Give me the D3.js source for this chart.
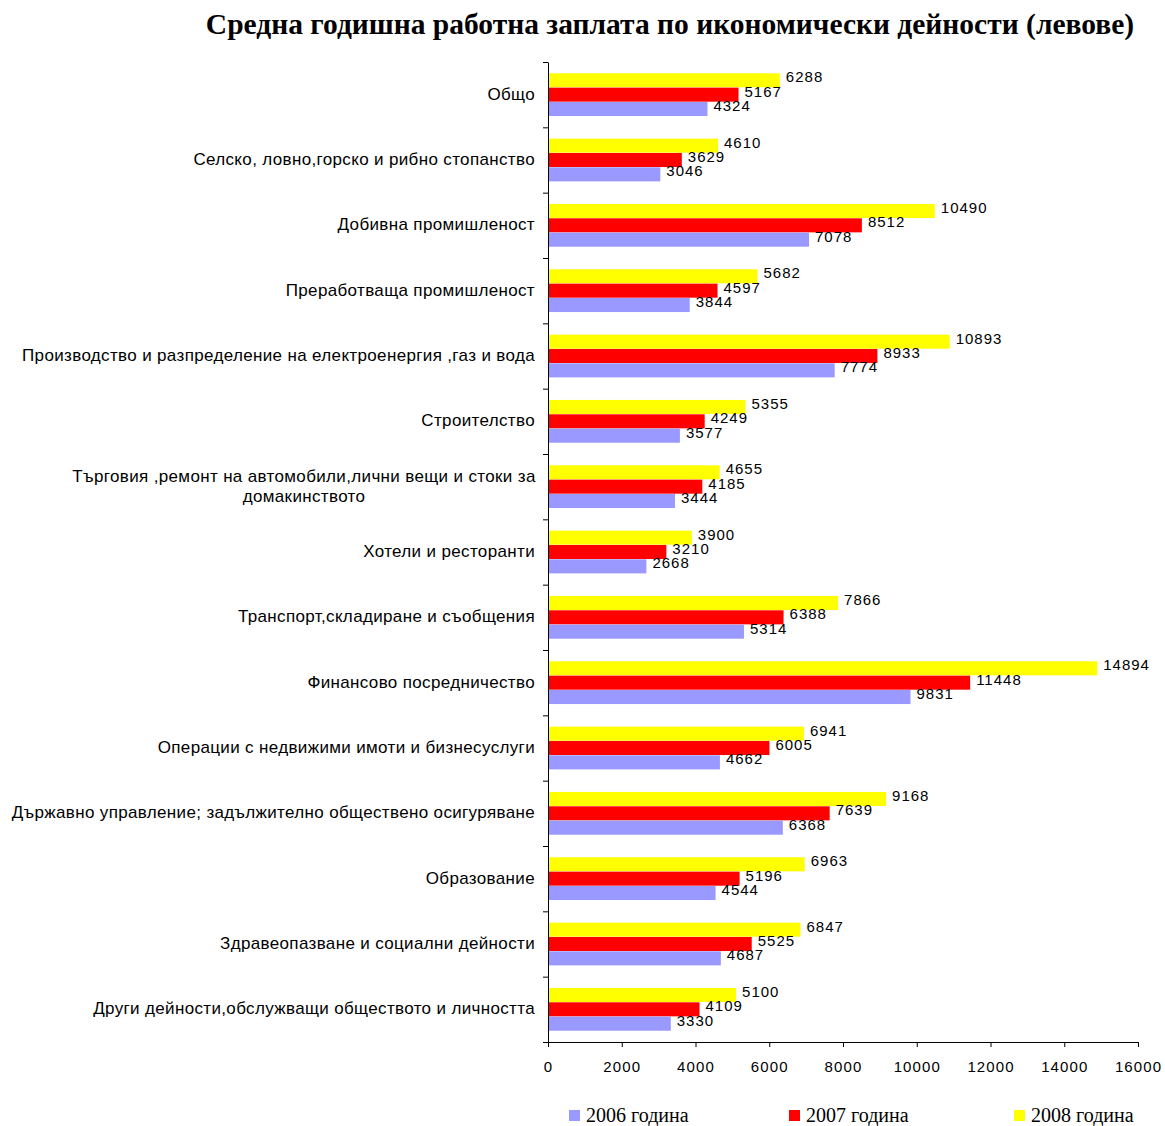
<!DOCTYPE html>
<html>
<head>
<meta charset="utf-8">
<script src="https://cdn.jsdelivr.net/npm/d3@7"></script>
<style>
  body { margin: 0; background: #fff; }
  .axis path, .axis line { stroke: #000; }
  .axis text { font-family: "Liberation Sans", Arial, sans-serif; font-size: 15px; letter-spacing: 1.1px; fill: #000; }
</style>
</head>
<body>
<svg id="chart"></svg>
<script>
var categories = [
  "Общо",
  "Селско, ловно,горско и рибно  стопанство",
  "Добивна промишленост",
  "Преработваща промишленост",
  "Производство и разпределение на  електроенергия ,газ и вода",
  "Строителство",
  "Търговия ,ремонт на автомобили,лични вещи и стоки за|домакинството",
  "Хотели и ресторанти",
  "Транспорт,складиране  и съобщения",
  "Финансово посредничество",
  "Операции с недвижими имоти и бизнесуслуги",
  "Държавно управление; задължително обществено осигуряване",
  "Образование",
  "Здравеопазване и социални дейности",
  "Други дейности,обслужващи обществото и личността"
];
var seriesNames = ["2008 година", "2007 година", "2006 година"];
var values2006 = [4324, 3046, 7078, 3844, 7774, 3577, 3444, 2668, 5314, 9831, 4662, 6368, 4544, 4687, 3330];
var values2007 = [5167, 3629, 8512, 4597, 8933, 4249, 4185, 3210, 6388, 11448, 6005, 7639, 5196, 5525, 4109];
var values2008 = [6288, 4610, 10490, 5682, 10893, 5355, 4655, 3900, 7866, 14894, 6941, 9168, 6963, 6847, 5100];
var xTicks = [0, 2000, 4000, 6000, 8000, 10000, 12000, 14000, 16000];
var colors = { "2006 година": "#9999ff", "2007 година": "#ff0000", "2008 година": "#ffff00" };
var seriesValues = { "2006 година": values2006, "2007 година": values2007, "2008 година": values2008 };

var width = 1165, height = 1126;
var margin = { top: 62, right: 27, bottom: 84, left: 548 };

var svg = d3.select("#chart").attr("width", width).attr("height", height);

var xScale = d3.scaleLinear()
  .domain([0, 16000])
  .range([margin.left, width - margin.right]);

var yScale = d3.scaleBand()
  .domain(d3.range(categories.length))
  .range([margin.top, height - margin.bottom])
  .paddingInner(0);

var yInner = d3.scaleBand()
  .domain(seriesNames)
  .range([11, yScale.bandwidth() - 11])
  .padding(0.02);

// title
svg.append("text")
  .attr("x", 670)
  .attr("y", 34)
  .attr("text-anchor", "middle")
  .style("font-family", "'Liberation Serif', 'Times New Roman', serif")
  .style("font-weight", "bold")
  .style("font-size", "29.5px")
  .text("Средна годишна работна заплата по икономически дейности (левове)");

// bars
var groups = svg.selectAll("g.cat")
  .data(categories)
  .enter().append("g")
  .attr("class", "cat")
  .attr("transform", (d, i) => `translate(0, ${yScale(i)})`);

groups.each(function (c, i) {
  var g = d3.select(this);
  seriesNames.forEach(function (s) {
    var v = seriesValues[s][i];
    g.append("rect")
      .attr("x", xScale(0))
      .attr("y", yInner(s))
      .attr("width", xScale(v) - xScale(0))
      .attr("height", yInner.bandwidth())
      .attr("fill", colors[s]);
    g.append("text")
      .attr("x", xScale(v) + 6)
      .attr("y", yInner(s) + yInner.bandwidth() / 2 + 2)
      .style("font-family", "'Liberation Sans', Arial, sans-serif")
      .style("font-size", "15px")
      .style("letter-spacing", "1px")
      .text(v);
  });

  // category label
  var lines = c.split("|");
  var lbl = g.append("text")
    .attr("text-anchor", lines.length > 1 ? "middle" : "end")
    .style("font-family", "'Liberation Sans', Arial, sans-serif")
    .style("font-size", "17px")
    .style("letter-spacing", "0.35px");
  if (lines.length > 1) {
    lbl.append("tspan").attr("x", 304).attr("y", yScale.bandwidth() / 2 - 5).text(lines[0]);
    lbl.append("tspan").attr("x", 304).attr("y", yScale.bandwidth() / 2 + 15).text(lines[1]);
  } else {
    lbl.attr("x", 535).attr("y", yScale.bandwidth() / 2 + 5).text(c);
  }
});

// axes
var yLin = d3.scaleLinear().domain([0, categories.length]).range([margin.top, height - margin.bottom]);
svg.append("g")
  .attr("class", "axis")
  .attr("transform", `translate(${margin.left}, 0)`)
  .call(d3.axisLeft(yLin).tickValues(d3.range(categories.length + 1)).tickFormat("").tickSize(5).tickSizeOuter(0));

svg.append("g")
  .attr("class", "axis")
  .attr("transform", `translate(0, ${height - margin.bottom})`)
  .call(d3.axisBottom(xScale).tickValues(xTicks).tickFormat(d3.format("d")).tickSize(5).tickSizeOuter(0).tickPadding(14));

// legend
var legendX = { "2006 година": 569, "2007 година": 789, "2008 година": 1014 };
["2006 година", "2007 година", "2008 година"].forEach(function (s) {
  svg.append("rect")
    .attr("x", legendX[s])
    .attr("y", 1110)
    .attr("width", 11)
    .attr("height", 11)
    .attr("fill", colors[s]);
  svg.append("text")
    .attr("x", legendX[s] + 17)
    .attr("y", 1122)
    .style("font-family", "'Liberation Serif', 'Times New Roman', serif")
    .style("font-size", "20px")
    .text(s);
});
</script>
</body>
</html>
